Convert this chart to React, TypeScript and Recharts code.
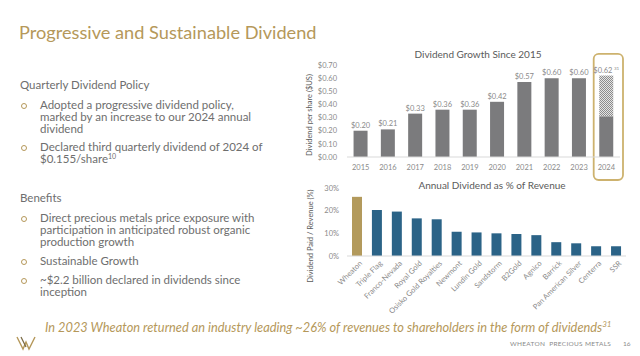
import React from 'react';
import { BarChart, Bar, XAxis, YAxis, Cell, LabelList, ReferenceArea } from 'recharts';

const years = ['2015', '2016', '2017', '2018', '2019', '2020', '2021', '2022', '2023', '2024'];
const dividendPerShare = [0.2, 0.21, 0.33, 0.36, 0.36, 0.42, 0.57, 0.6, 0.6, 0.62];
const paidSoFar2024 = 0.31;
const dividendTicks = [0, 0.1, 0.2, 0.3, 0.4, 0.5, 0.6, 0.7];

const companies = [
  'Wheaton', 'Triple Flag', 'Franco-Nevada', 'Royal Gold', 'Osisko Gold Royalties', 'Newmont',
  'Lundin Gold', 'Sandstorm', 'B2Gold', 'Agnico', 'Barrick', 'Pan American Silver', 'Centerra', 'SSR',
];
const dividendPctRevenue = [26.1, 20.3, 19.6, 16.6, 16.2, 10.7, 10.4, 10.0, 9.7, 9.2, 6.1, 5.6, 4.3, 4.3];
const pctTicks = [0, 10, 20, 30];

const GOLD = '#b5985a';
const TEXT = '#6e6e6e';
const FONT = 'Lato, "Open Sans", sans-serif';

const dividendData = years.map((year, i) => {
  const total = dividendPerShare[i];
  const isCurrent = year === '2024';
  return {
    year,
    total,
    base: isCurrent ? paidSoFar2024 : total,
    extra: isCurrent ? +(total - paidSoFar2024).toFixed(2) : 0,
  };
});

const pctData = companies.map((name, i) => ({ name, pct: dividendPctRevenue[i] }));

// Label drawn from the base bar's geometry; for the partially paid year the
// label is lifted by the remaining (patterned) portion, scaled from the bar itself.
const TopLabel = (props: any) => {
  const { x, y, width, height, value } = props;
  const total = Number(value);
  const d = dividendData.find((e) => e.total === total && Math.abs(e.base - total) > 1e-9);
  let labelY = y;
  if (d) {
    const pxPerUnit = height / d.base;
    labelY = y - d.extra * pxPerUnit;
  }
  const cx = x + width / 2;
  return (
    <text x={cx} y={labelY - 3} textAnchor="middle" fontSize={7.5} fill="#8a8a8a" fontFamily={FONT}>
      {`$${total.toFixed(2)}`}
      {d ? (
        <tspan fontSize={4.5} dx={1.5} dy={-3}>31</tspan>
      ) : null}
    </text>
  );
};

const AngledTick = (props: any) => {
  const { x, y, payload } = props;
  return (
    <g transform={`translate(${x + 3},${y - 3})`}>
      <text x={0} y={0} dy={4} textAnchor="end" transform="rotate(-45)" fontSize={7.5} fill="#8a8a8a" fontFamily={FONT}>
        {payload.value}
      </text>
    </g>
  );
};

const GoldBox = (props: any) => {
  const { x, y, width, height } = props;
  return (
    <rect x={x + 1} y={y} width={width + 2} height={height} rx={5} ry={5} fill="none" stroke="#cdb26e" strokeWidth={1.8} />
  );
};

const line = (top: number, extra: React.CSSProperties = {}): React.CSSProperties => ({
  position: 'absolute',
  top: top - 6,
  left: 40,
  fontSize: 11.5,
  lineHeight: '12px',
  color: TEXT,
  whiteSpace: 'nowrap',
  ...extra,
});

const Bullet = ({ top }: { top: number }) => (
  <div
    style={{
      position: 'absolute',
      left: 21,
      top: top - 2.5,
      width: 4,
      height: 4,
      borderRadius: '50%',
      border: `1px solid ${GOLD}`,
    }}
  />
);

export default function App() {
  return (
    <div
      style={{
        position: 'absolute',
        left: 0,
        top: 0,
        width: 640,
        height: 356,
        background: '#ffffff',
        overflow: 'hidden',
        fontFamily: FONT,
      }}
    >
      <div style={{ position: 'absolute', left: 19, top: 21, fontSize: 18.2, lineHeight: '22px', color: GOLD, whiteSpace: 'nowrap' }}>
        Progressive and Sustainable Dividend
      </div>

      <div style={line(85, { left: 20 })}>Quarterly Dividend Policy</div>
      <Bullet top={105} />
      <div style={line(105)}>Adopted a progressive dividend policy,</div>
      <div style={line(117)}>marked by an increase to our 2024 annual</div>
      <div style={line(128.5)}>dividend</div>
      <Bullet top={147} />
      <div style={line(147)}>Declared third quarterly dividend of 2024 of</div>
      <div style={line(159)}>
        $0.155/share<sup style={{ fontSize: 7, verticalAlign: 'top', position: 'relative', top: -3 }}>10</sup>
      </div>

      <div style={line(198, { left: 20 })}>Benefits</div>
      <Bullet top={218} />
      <div style={line(218)}>Direct precious metals price exposure with</div>
      <div style={line(230)}>participation in anticipated robust organic</div>
      <div style={line(242)}>production growth</div>
      <Bullet top={261} />
      <div style={line(261)}>Sustainable Growth</div>
      <Bullet top={280} />
      <div style={line(280)}>~$2.2 billion declared in dividends since</div>
      <div style={line(292)}>inception</div>

      <div
        style={{
          position: 'absolute',
          left: 45,
          top: 320,
          fontSize: 12.8,
          lineHeight: '15px',
          fontStyle: 'italic',
          color: GOLD,
          whiteSpace: 'nowrap',
        }}
      >
        In 2023 Wheaton returned an industry leading ~26% of revenues to shareholders in the form of dividends
        <sup style={{ fontSize: 8, verticalAlign: 'top', position: 'relative', top: -3 }}>31</sup>
      </div>

      <svg style={{ position: 'absolute', left: 16, top: 335 }} width={20} height={16}>
        <polyline points="1,2 7,14 10,7 13,14 19,2" fill="none" stroke={GOLD} strokeWidth={1.4} />
        <polyline points="5,2 10,12" fill="none" stroke="#7a6a45" strokeWidth={1.2} />
      </svg>
      <div style={{ position: 'absolute', left: 510, top: 340, fontSize: 6.5, letterSpacing: 0.3, color: '#8a8a8a', whiteSpace: 'nowrap' }}>
        WHEATON&nbsp; PRECIOUS METALS
      </div>
      <div style={{ position: 'absolute', left: 623, top: 340, fontSize: 6.5, color: '#8a8a8a' }}>16</div>

      {/* Top chart */}
      <div style={{ position: 'absolute', left: 478 - 80, top: 48, width: 160, textAlign: 'center', fontSize: 10, color: '#5a5a5a', whiteSpace: 'nowrap' }}>
        Dividend Growth Since 2015
      </div>
      <div
        style={{
          position: 'absolute',
          left: 310 - 60,
          top: 115 - 6,
          width: 120,
          height: 12,
          textAlign: 'center',
          fontSize: 7.5,
          lineHeight: '12px',
          color: '#5a5a5a',
          transform: 'rotate(-90deg)',
          whiteSpace: 'nowrap',
        }}
      >
        Dividend per share ($US)
      </div>
      <div style={{ position: 'absolute', left: 290, top: 40 }}>
        <BarChart
          width={350}
          height={145}
          data={dividendData}
          margin={{ top: 25, right: 20, left: 0, bottom: 8 }}
          barCategoryGap="24%"
        >
          <defs>
            <pattern id="dots" width="2" height="2" patternUnits="userSpaceOnUse">
              <rect width="2" height="2" fill="#e4e4e4" />
              <rect width="1" height="1" fill="#8c8c8c" />
              <rect x="1" y="1" width="1" height="1" fill="#8c8c8c" />
            </pattern>
          </defs>
          <XAxis
            dataKey="year"
            interval={0}
            tickLine={false}
            axisLine={{ stroke: '#d9d9d9' }}
            tick={{ fontSize: 7.5, fill: '#8a8a8a', fontFamily: FONT }}
            height={20}
          />
          <YAxis
            domain={[0, 0.7]}
            ticks={dividendTicks}
            interval={0}
            tickFormatter={(v: number) => `$${v.toFixed(2)}`}
            axisLine={false}
            tickLine={false}
            tickMargin={4}
            width={57}
            tick={{ fontSize: 7.5, fill: '#8a8a8a', fontFamily: FONT }}
          />
          <Bar dataKey="base" stackId="d" fill="#7b7b7d" isAnimationActive={false}>
            <LabelList dataKey="total" content={TopLabel} />
          </Bar>
          <Bar dataKey="extra" stackId="d" fill="url(#dots)" isAnimationActive={false} />
          <ReferenceArea x1="2024" x2="2024" y1={-0.175} y2={0.785} ifOverflow="visible" shape={GoldBox} />
        </BarChart>
      </div>

      {/* Bottom chart */}
      <div style={{ position: 'absolute', left: 492 - 90, top: 179, width: 180, textAlign: 'center', fontSize: 10, color: '#5a5a5a', whiteSpace: 'nowrap' }}>
        Annual Dividend as % of Revenue
      </div>
      <div
        style={{
          position: 'absolute',
          left: 311 - 60,
          top: 236 - 6,
          width: 120,
          height: 12,
          textAlign: 'center',
          fontSize: 7.5,
          lineHeight: '12px',
          color: '#5a5a5a',
          transform: 'rotate(-90deg)',
          whiteSpace: 'nowrap',
        }}
      >
        Dividend Paid / Revenue (%)
      </div>
      <div style={{ position: 'absolute', left: 290, top: 175 }}>
        <BarChart
          width={350}
          height={150}
          data={pctData}
          margin={{ top: 13, right: 14, left: 0, bottom: 9 }}
          barCategoryGap="25%"
        >
          <XAxis
            dataKey="name"
            interval={0}
            tickLine={false}
            axisLine={{ stroke: '#d9d9d9' }}
            tick={AngledTick}
            height={60}
          />
          <YAxis
            domain={[0, 30]}
            ticks={pctTicks}
            interval={0}
            tickFormatter={(v: number) => `${v}%`}
            axisLine={false}
            tickLine={false}
            width={57}
            tick={{ fontSize: 7.5, fill: '#8a8a8a', fontFamily: FONT }}
          />
          <Bar dataKey="pct" isAnimationActive={false}>
            {pctData.map((d, i) => (
              <Cell key={d.name} fill={i === 0 ? '#b39a5c' : '#2b6387'} />
            ))}
          </Bar>
        </BarChart>
      </div>
    </div>
  );
}
